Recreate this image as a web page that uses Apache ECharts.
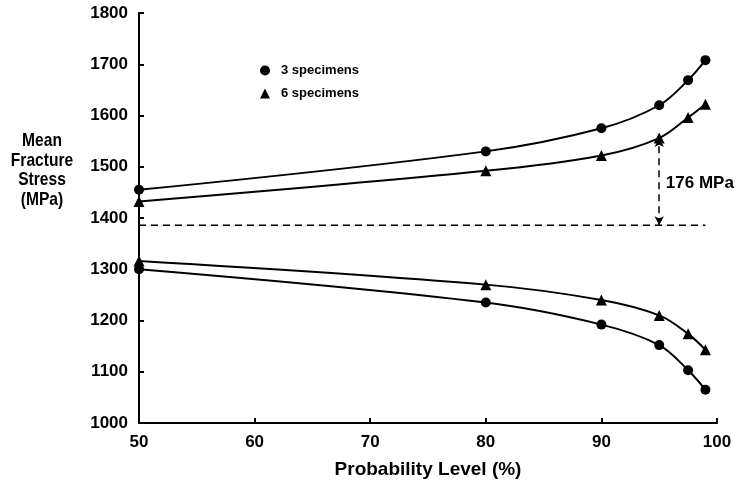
<!DOCTYPE html>
<html>
<head>
<meta charset="utf-8">
<script src="https://cdn.jsdelivr.net/npm/echarts@6/dist/echarts.min.js"></script>
<style>
html,body{margin:0;padding:0;background:#fff;}
#c{width:741px;height:486px;}
</style>
</head>
<body>
<div id="c"></div>
<script>
// Data
var probLevels = [50, 80, 90, 95, 97.5, 99];
var upper3 = [1455, 1530, 1575, 1620, 1669, 1708];
var upper6 = [1432, 1492, 1522, 1556, 1596, 1622];
var lower6 = [1316, 1270, 1240, 1210, 1174, 1143];
var lower3 = [1300, 1235, 1192, 1152, 1103, 1065];
var refLevel = 1386;
var refLine = [50, 99];
var gapX = 95;
var gapTop = 1556;
var gapLabel = '176 MPa';
var gapLabelPos = [95.4, 1468];
var seriesNames = ['3 specimens', '6 specimens'];
var yTitle = ['Mean', 'Fracture', 'Stress', '(MPa)'];
var xTitle = 'Probability Level (%)';

function zip(xs, ys) { return xs.map(function (x, i) { return [x, ys[i]]; }); }

var FONT = 'Liberation Sans, Arial, Helvetica, sans-serif';
var chart = echarts.init(document.getElementById('c'));

function curve(name, ys, sym, size) {
  return {
    name: name, type: 'line', data: zip(probLevels, ys), smooth: 0.35,
    symbol: sym, symbolSize: size, showSymbol: true,
    lineStyle: { color: '#000', width: 2 },
    itemStyle: { color: '#000' }, z: 3
  };
}

chart.setOption({
  animation: false,
  backgroundColor: '#fff',
  grid: { left: 139, right: 24, top: 13, bottom: 63, containLabel: false },
  legend: {
    orient: 'vertical', left: 255, top: 59, itemGap: 10,
    itemWidth: 10, itemHeight: 10,
    textStyle: { fontFamily: FONT, fontWeight: 'bold', fontSize: 13, color: '#000', padding: [0, 0, 0, 6] },
    data: [{ name: seriesNames[0], icon: 'circle' }, { name: seriesNames[1], icon: 'triangle' }]
  },
  xAxis: {
    type: 'value', min: 50, max: 100, interval: 10,
    name: xTitle, nameLocation: 'middle', nameGap: 37,
    nameTextStyle: { fontFamily: FONT, fontWeight: 'bold', fontSize: 19, color: '#000' },
    axisLine: { lineStyle: { color: '#000', width: 2 } },
    axisTick: { inside: true, length: 5, lineStyle: { color: '#000', width: 2 } },
    axisLabel: { fontFamily: FONT, fontWeight: 'bold', fontSize: 17, color: '#000', margin: 11,
      formatter: function (v) { return String(v); } },
    splitLine: { show: false }
  },
  yAxis: {
    type: 'value', min: 1000, max: 1800, interval: 100,
    axisLine: { show: true, lineStyle: { color: '#000', width: 2 } },
    axisTick: { show: true, inside: true, length: 5, lineStyle: { color: '#000', width: 2 } },
    axisLabel: { fontFamily: FONT, fontWeight: 'bold', fontSize: 17, color: '#000', margin: 11,
      formatter: function (v) { return String(v); } },
    splitLine: { show: false }
  },
  graphic: [{
    type: 'text', x: 42, y: 131, scaleX: 0.82,
    style: {
      text: yTitle.join('\n'), fontFamily: FONT, fontWeight: 'bold', fontSize: 19,
      lineHeight: 19.7, fill: '#000', align: 'center', verticalAlign: 'top'
    }
  }],
  series: [
    curve(seriesNames[0], upper3, 'circle', 10),
    curve(seriesNames[0], lower3, 'circle', 10),
    curve(seriesNames[1], upper6, 'triangle', 11),
    curve(seriesNames[1], lower6, 'triangle', 11),
    {
      name: 'ref', type: 'line', data: zip(refLine, [refLevel, refLevel]),
      symbol: 'none', lineStyle: { color: '#000', width: 1.5, type: [7, 5] },
      markLine: {
        silent: true, symbol: ['arrow', 'arrow'], symbolSize: [7, 9],
        lineStyle: { color: '#000', width: 1.5, type: [7, 5] },
        label: { show: false },
        data: [[{ coord: [gapX, refLevel] }, { coord: [gapX, gapTop] }]]
      }
    },
    {
      name: 'label', type: 'scatter', data: [gapLabelPos], symbolSize: 0,
      itemStyle: { opacity: 1, color: '#000' },
      label: {
        show: true, position: 'right', distance: 2, formatter: gapLabel,
        fontFamily: FONT, fontWeight: 'bold', fontSize: 17, color: '#000'
      }
    }
  ]
});
</script>
</body>
</html>
